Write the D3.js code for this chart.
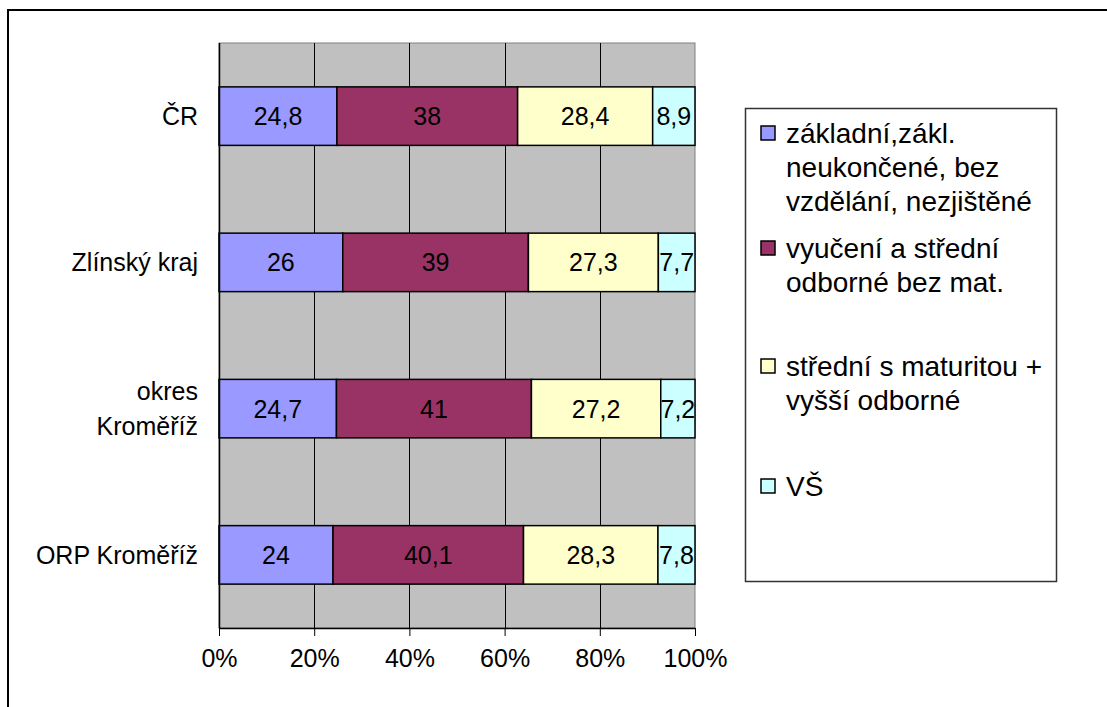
<!DOCTYPE html>
<html><head><meta charset="utf-8">
<script src="https://cdn.jsdelivr.net/npm/d3@7"></script>
<style>body{margin:0;background:#fff}svg{display:block;font-family:"Liberation Sans",Arial,sans-serif}</style>
</head><body><svg id="c" width="1107" height="707"></svg>
<script>
const categories = ["ČR", "Zlínský kraj", "okres Kroměříž", "ORP Kroměříž"];
const categoryLines = [["ČR"], ["Zlínský kraj"], ["okres", "Kroměříž"], ["ORP Kroměříž"]];
const seriesNames = ["základní,zákl. neukončené, bez vzdělání, nezjištěné", "vyučení a střední odborné bez mat.", "střední s maturitou + vyšší odborné", "VŠ"];
const legendLines = [["základní,zákl.", "neukončené, bez", "vzdělání, nezjištěné"], ["vyučení a střední", "odborné bez mat."], ["střední s maturitou +", "vyšší odborné"], ["VŠ"]];
const zakladni = [24.8, 26, 24.7, 24];
const vyuceni = [38, 39, 41, 40.1];
const stredni = [28.4, 27.3, 27.2, 28.3];
const vs = [8.9, 7.7, 7.2, 7.8];
const tickLabels = ["0%", "20%", "40%", "60%", "80%", "100%"];
const colors = ["#9999FF", "#993366", "#FFFFCC", "#CCFFFF"];

const svg = d3.select("#c");
const series = [zakladni, vyuceni, stredni, vs];
const rows = categories.map((c, i) => {
  const o = {cat: c};
  series.forEach((s, j) => o["s" + j] = s[i]);
  return o;
});
const stack = d3.stack().keys(["s0","s1","s2","s3"]).offset(d3.stackOffsetExpand)(rows);

const L = 219, R = 695, T = 43, B = 628;
const x = d3.scaleLinear().domain([0, 1]).range([L, R]);
const y = d3.scaleBand().domain(categories).range([T, B]).paddingInner(0.6).paddingOuter(0.3);

// outer frame
svg.append("rect").attr("x", 8).attr("y", 10).attr("width", 1200).attr("height", 800)
  .attr("fill", "none").attr("stroke", "#000").attr("stroke-width", 2);

// plot background
svg.append("rect").attr("x", L).attr("y", T).attr("width", R - L).attr("height", B - T)
  .attr("fill", "#C0C0C0").attr("stroke", "#808080").attr("stroke-width", 1);

// gridlines
svg.append("g").selectAll("line").data([0.2, 0.4, 0.6, 0.8]).join("line")
  .attr("x1", d => Math.round(x(d)) + 0.5).attr("x2", d => Math.round(x(d)) + 0.5)
  .attr("y1", T).attr("y2", B).attr("stroke", "#000").attr("stroke-width", 1);

// bars
const g = svg.append("g");
stack.forEach((layer, j) => {
  g.append("g").selectAll("rect").data(layer).join("rect")
    .attr("x", d => x(d[0])).attr("width", d => x(d[1]) - x(d[0]))
    .attr("y", d => y(d.data.cat)).attr("height", y.bandwidth())
    .attr("fill", colors[j]).attr("stroke", "#000").attr("stroke-width", 1.5);
  g.append("g").selectAll("text").data(layer).join("text")
    .attr("x", d => (x(d[0]) + x(d[1])) / 2).attr("y", d => y(d.data.cat) + y.bandwidth() / 2)
    .attr("text-anchor", "middle").attr("dominant-baseline", "central")
    .attr("font-size", 25).attr("fill", "#000")
    .text(d => String(d.data["s" + j]).replace(".", ","));
});

// axes lines
svg.append("line").attr("x1", L + 0.5).attr("x2", L + 0.5).attr("y1", T).attr("y2", B).attr("stroke", "#000").attr("stroke-width", 1.5);
const xAxis = d3.axisBottom(x).tickValues([0, 0.2, 0.4, 0.6, 0.8, 1]).tickFormat((d, i) => tickLabels[i]).tickSizeInner(8).tickSizeOuter(0).tickPadding(13);
const ax = svg.append("g").attr("transform", `translate(0,${B})`).call(xAxis);
ax.select(".domain").attr("stroke", "#000").attr("stroke-width", 1.5);
ax.selectAll(".tick line").attr("stroke", "#000");
ax.selectAll(".tick text").attr("font-size", 25).attr("font-family", "Liberation Sans, Arial, sans-serif").attr("fill", "#000");

// category labels
categories.forEach((c, i) => {
  const lines = categoryLines[i];
  const cy = y(c) + y.bandwidth() / 2;
  const lh = 35;
  const t = svg.append("text").attr("text-anchor", "end").attr("font-size", 25).attr("fill", "#000");
  lines.forEach((ln, k) => {
    t.append("tspan").attr("x", 198).attr("y", cy + (k - (lines.length - 1) / 2) * lh).attr("dominant-baseline", "central").text(ln);
  });
});

// legend
svg.append("rect").attr("x", 745.5).attr("y", 108.5).attr("width", 311).attr("height", 473)
  .attr("fill", "#fff").attr("stroke", "#333").attr("stroke-width", 1.5);
const legendY = [133, 248, 366, 486];
legendLines.forEach((lines, i) => {
  svg.append("rect").attr("x", 761).attr("y", legendY[i] - 7).attr("width", 14).attr("height", 14)
    .attr("fill", colors[i]).attr("stroke", "#000").attr("stroke-width", 1.5);
  const t = svg.append("text").attr("font-size", 28).attr("fill", "#000");
  lines.forEach((ln, k) => {
    t.append("tspan").attr("x", 786).attr("y", legendY[i] + k * 34).attr("dominant-baseline", "central").text(ln);
  });
});
</script></body></html>
